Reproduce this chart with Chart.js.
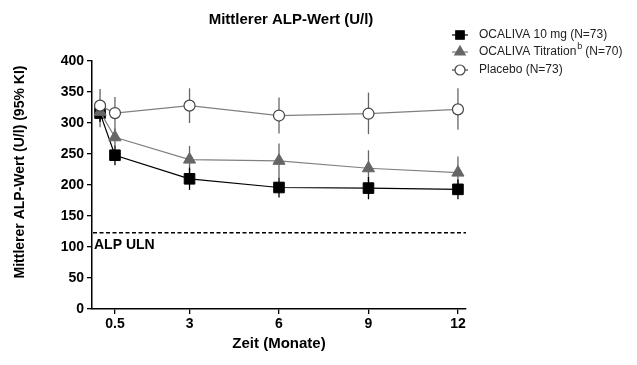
<!doctype html>
<html>
<head>
    <title>Mittlerer ALP-Wert</title>
    <script src="https://cdn.jsdelivr.net/npm/chart.js"></script>
    <style>
        body { margin: 0; background: #fff; }
    </style>
</head>
<body>
    <canvas id="myChart" width="637" height="365"></canvas>
    <script>
        const months = [0, 0.5, 3, 6, 9, 12];
        const xTicks = [0.5, 3, 6, 9, 12];

        const ocaliva10 = [316, 248, 210, 196, 195, 193];
        const ocaliva10Lo = [302, 232, 192, 180, 177, 177];
        const ocaliva10Hi = [330, 264, 228, 212, 213, 209];

        const titration = [318, 277, 241, 239, 227, 220];
        const titrationLo = [302, 264, 218, 212, 198, 196];
        const titrationHi = [334, 291, 263, 267, 256, 246];

        const placebo = [328, 316, 328, 312, 315, 322];
        const placeboLo = [293, 288, 300, 283, 282, 289];
        const placeboHi = [355, 342, 356, 341, 349, 356];

        const uln = 123;

        const FONT = "'Liberation Sans', Arial, sans-serif";

        function pts(vals) {
            return months.map((m, i) => ({ x: m, y: vals[i] }));
        }

        // error bars + ULN line, drawn under the markers
        const errorBars = {
            id: 'errorBars',
            beforeDatasetsDraw(chart) {
                const { ctx, scales: { x, y } } = chart;
                const sets = [
                    [placeboLo, placeboHi, '#666'],
                    [titrationLo, titrationHi, '#666'],
                    [ocaliva10Lo, ocaliva10Hi, '#000']
                ];
                ctx.save();
                ctx.lineWidth = 1.3;
                sets.forEach(([lo, hi, col]) => {
                    ctx.strokeStyle = col;
                    months.forEach((m, i) => {
                        const px = x.getPixelForValue(m);
                        ctx.beginPath();
                        ctx.moveTo(px, y.getPixelForValue(lo[i]));
                        ctx.lineTo(px, y.getPixelForValue(hi[i]));
                        ctx.stroke();
                    });
                });
                const uy = y.getPixelForValue(uln);
                ctx.strokeStyle = '#000';
                ctx.lineWidth = 1.5;
                ctx.setLineDash([4, 2.5]);
                ctx.beginPath();
                ctx.moveTo(chart.chartArea.left + 1, uy);
                ctx.lineTo(chart.chartArea.right, uy);
                ctx.stroke();
                ctx.setLineDash([]);
                ctx.fillStyle = '#000';
                ctx.font = 'bold 14px ' + FONT;
                ctx.textBaseline = 'top';
                ctx.fillText('ALP ULN', chart.chartArea.left + 2, uy + 5);
                ctx.restore();
            }
        };

        // title, y axis title and legend
        const extras = {
            id: 'extras',
            afterDraw(chart) {
                const ctx = chart.ctx;
                ctx.save();
                ctx.fillStyle = '#000';
                ctx.font = 'bold 15px ' + FONT;
                ctx.textAlign = 'center';
                ctx.textBaseline = 'middle';
                ctx.fillText('Mittlerer ALP-Wert (U/l)', 291, 20);

                ctx.save();
                ctx.translate(20, 172);
                ctx.rotate(-Math.PI / 2);
                ctx.font = 'bold 14px ' + FONT;
                ctx.fillText('Mittlerer ALP-Wert (U/l) (95% KI)', 0, 0);
                ctx.restore();

                const items = [
                    ['OCALIVA 10 mg (N=73)', 'rect', '#000', '#000', '#000', 35],
                    ['OCALIVA Titration', 'triangle', '#666', '#666', '#777', 52],
                    ['Placebo (N=73)', 'circle', '#fff', '#444', '#444', 70]
                ];
                items.forEach(([label, style, fill, stroke, line, yy]) => {
                    ctx.strokeStyle = line;
                    ctx.lineWidth = 1.2;
                    ctx.beginPath();
                    ctx.moveTo(452, yy);
                    ctx.lineTo(468, yy);
                    ctx.stroke();
                    ctx.fillStyle = fill;
                    ctx.strokeStyle = stroke;
                    Chart.helpers.drawPoint(ctx, { pointStyle: style, radius: style === 'circle' ? 5 : 6, borderWidth: 1 }, 460, yy);
                    ctx.fillStyle = '#222';
                    ctx.font = '12px ' + FONT;
                    ctx.textAlign = 'left';
                    ctx.fillText(label, 479, yy);
                    if (style === 'triangle') {
                        const w = ctx.measureText(label).width;
                        ctx.font = '9px ' + FONT;
                        ctx.fillText('b', 479 + w + 1, yy - 5);
                        ctx.font = '12px ' + FONT;
                        ctx.fillText('(N=70)', 479 + w + 9, yy);
                    }
                });
                ctx.restore();
            }
        };

        const ctx = document.getElementById('myChart').getContext('2d');
        const myChart = new Chart(ctx, {
            type: 'line',
            data: {
                datasets: [{
                    label: 'Placebo (N=73)',
                    data: pts(placebo),
                    borderColor: '#808080',
                    borderWidth: 1.2,
                    pointStyle: 'circle',
                    pointRadius: 5.5,
                    pointBackgroundColor: '#fff',
                    pointBorderColor: '#444',
                    pointBorderWidth: 1.2
                }, {
                    label: 'OCALIVA Titration (N=70)',
                    data: pts(titration),
                    borderColor: '#808080',
                    borderWidth: 1.2,
                    pointStyle: 'triangle',
                    pointRadius: 7,
                    pointBackgroundColor: '#666',
                    pointBorderColor: '#666',
                    pointBorderWidth: 1
                }, {
                    label: 'OCALIVA 10 mg (N=73)',
                    data: pts(ocaliva10),
                    borderColor: '#000',
                    borderWidth: 1.2,
                    pointStyle: 'rect',
                    pointRadius: 7.5,
                    pointBackgroundColor: '#000',
                    pointBorderColor: '#000',
                    pointBorderWidth: 1
                }]
            },
            options: {
                responsive: false,
                animation: false,
                layout: { padding: { left: 0, top: 61, right: 171, bottom: 0 } },
                plugins: {
                    legend: { display: false },
                    tooltip: { enabled: false }
                },
                scales: {
                    x: {
                        type: 'linear',
                        min: -0.27,
                        max: 12.27,
                        afterBuildTicks: (scale) => { scale.ticks = xTicks.map(v => ({ value: v })); },
                        afterFit: (scale) => { scale.height = 56; },
                        grid: { drawOnChartArea: false, drawTicks: true, tickLength: 5, color: '#000', lineWidth: 1.3 },
                        border: { color: '#000', width: 1.5 },
                        ticks: { color: '#000', font: { family: FONT, size: 14, weight: 'bold' }, padding: 2, maxRotation: 0, autoSkip: false },
                        title: { display: true, text: 'Zeit (Monate)', color: '#000', font: { family: FONT, size: 15, weight: 'bold' }, padding: { top: 0, bottom: 12 } }
                    },
                    y: {
                        min: 0,
                        max: 400,
                        afterFit: (scale) => { scale.width = 92; },
                        grid: { drawOnChartArea: false, drawTicks: true, tickLength: 5, color: '#000', lineWidth: 1.3 },
                        border: { color: '#000', width: 1.5 },
                        ticks: { stepSize: 50, color: '#000', font: { family: FONT, size: 14, weight: 'bold' }, padding: 3 }
                    }
                }
            },
            plugins: [errorBars, extras]
        });
    </script>
</body>
</html>
